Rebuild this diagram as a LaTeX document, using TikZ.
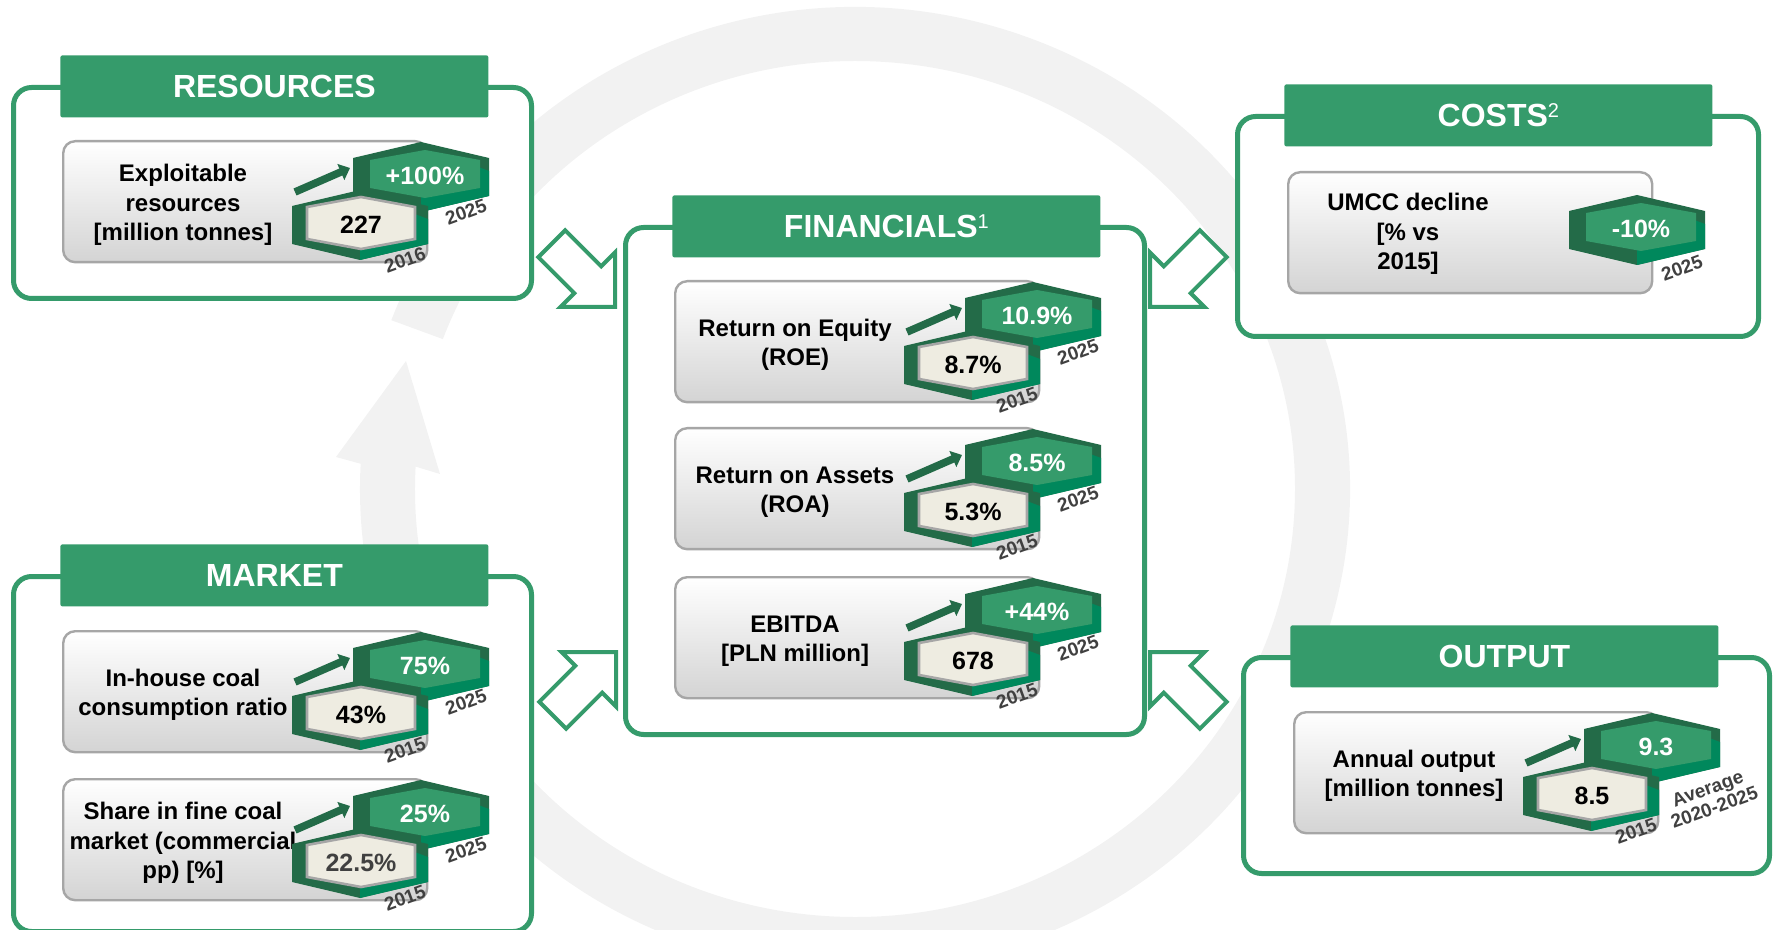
\documentclass[tikz,border=0pt]{standalone}
\usepackage{fontspec}
\setmainfont{Liberation Sans}
\usetikzlibrary{arrows.meta}

\definecolor{jswgreen}{HTML}{359B6B}
\definecolor{hexdark}{HTML}{236B48}
\definecolor{hexbright}{HTML}{00885C}
\definecolor{hexbeige}{HTML}{EEECE1}
\definecolor{ringgray}{HTML}{F2F2F2}
\definecolor{yeargray}{HTML}{404040}

\tikzset{
  panelbox/.style={draw=jswgreen, line width=2.5pt, fill=white, rounded corners=9pt,
    anchor=north west, inner sep=0pt},
  paneltitle/.style={fill=jswgreen, rounded corners=1pt, text=white, anchor=north west,
    font=\bfseries\fontsize{16}{19}\selectfont, minimum width=214pt, minimum height=31pt, inner sep=0pt},
  kpibox/.style={draw=black!35, line width=1.2pt, rounded corners=6pt, anchor=north west,
    top color=white, middle color=white, bottom color=black!17,
    minimum width=182pt, minimum height=60.5pt, inner sep=0pt},
  kpitext/.style={font=\bfseries\fontsize{12}{14.7}\selectfont, align=center},
  hexvalue/.style={font=\bfseries\fontsize{12.5}{14}\selectfont, inner sep=0pt},
  yearlabel/.style={font=\bfseries\fontsize{9.5}{10}\selectfont, text=yeargray, rotate=20,
    align=center, inner sep=0pt},
  hexrim/.style={draw=black!35, line width=1.3pt, fill=hexbeige},
  trendarrow/.style={draw=hexdark, line width=3.8pt, -{Triangle[length=5pt,width=8.5pt]}},
  flowarrow/.style={draw=jswgreen, line width=2pt, fill=white},
}

\newcommand{\hexpath}[3]{(0,-#2) -- (#1,-#3) -- (#1,#3) -- (0,#2) -- (-#1,#3) -- (-#1,-#3) -- cycle}
\newcommand{\fnmark}[1]{\raisebox{4.6pt}{\fontsize{10}{10}\mdseries #1}}

% dark hexagon with its lit lower-right face
\newcommand{\hexbase}{%
  \fill[hexdark] \hexpath{68}{35}{19};
  \fill[hexbright] (68,-6) -- (68,19) -- (0,35) -- (0,0) -- (52,-12) -- cycle;
}

% name, centre, value, year
\newcommand{\oldhex}[4]{%
  \begin{scope}[shift={#2}]
    \hexbase
    \draw[hexrim, shift={(1,-2)}] \hexpath{54}{26}{16};
    \node[hexvalue] (#1) at (1,0) {#3};
    \node[yearlabel] (#1-year) at (45,35) {#4};
  \end{scope}}

% [year position], name, centre, value, year
\newcommand{\newhex}[5][(45,35)]{%
  \begin{scope}[shift={#3}]
    \hexbase
    \fill[jswgreen, shift={(4,-3)}] \hexpath{55}{24}{14};
    \node[hexvalue, text=white] (#2) at (4,-1) {#4};
    \node[yearlabel] (#2-year) at #1 {#5};
  \end{scope}}

% [year position], name, top left, label, start value, target value, start year, target year
\newcommand{\kpi}[8][(45,35)]{%
  \begin{scope}[shift={#3}]
    \node[kpibox] (#2) at (0,0) {};
    \node[kpitext] (#2-label) at (121,65) {#4};
    \draw[trendarrow] (233,52) -- (288,28);
    \newhex[#1]{#2-target}{(359,37)}{#6}{#8}
    \oldhex{#2-start}{(298,85)}{#5}{#7}
  \end{scope}}

% name, top left, width, height, title
\newcommand{\panel}[5]{%
  \begin{scope}[shift={#2}]
    \node[panelbox, minimum width=#3*0.5pt, minimum height=#4*0.5pt] (#1) at (0,0) {};
    \node[paneltitle] (#1-title) at (49,-30) {#5};
  \end{scope}}

% name, tip, direction
\newcommand{\flow}[3]{%
  \draw[flowarrow, shift={#2}, rotate=#3] (0,0) -- (-38.5,38.5) -- (-38.5,19) -- (-89.5,19)
    -- (-89.5,-19) -- (-38.5,-19) -- (-38.5,-38.5) -- cycle;
  \coordinate (#1) at #2;
}

\begin{document}
\begin{tikzpicture}[x=0.5pt, y=-0.5pt]
  \useasboundingbox (0,0) rectangle (1773,930);

  % the cycle behind everything
  \fill[ringgray] (391.35,320.2) arc[start angle=-159.5, end angle=183, x radius=495, y radius=482]
    -- (336,457) -- (406,361) -- (440,474) -- (415.6,466.6)
    arc[start angle=183, end angle=-159.5, x radius=440, y radius=428] -- cycle;

  \flow{res-in}{(615,307)}{-45}
  \flow{cost-in}{(1150,307)}{-135}
  \flow{mkt-in}{(616,652)}{45}
  \flow{out-in}{(1150,652)}{135}

  \panel{resources}{(11,85)}{518}{211}{RESOURCES}
  \panel{market}{(11,574)}{518}{355}{MARKET}
  \panel{financials}{(623,225)}{519}{507}{FINANCIALS\fnmark{1}}
  \panel{costs}{(1235,114)}{521}{220}{COSTS\fnmark{2}}
  \panel{output}{(1241,655)}{526}{216}{OUTPUT}

  \kpi{reserves}{(62,140)}{Exploitable\\resources\\{}[million tonnes]}{227}{+100\%}{2016}{2025}
  \kpi{inhouse}{(62,630)}{In-house coal\\consumption ratio}{43\%}{75\%}{2015}{2025}
  \kpi{fineshare}{(62,778)}{Share in fine coal\\market (commercial\\pp) [\%]}{\color{yeargray}22.5\%}{25\%}{2015}{2025}

  \kpi{roe}{(674,280)}{Return on Equity\\(ROE)}{8.7\%}{10.9\%}{2015}{2025}
  \kpi{roa}{(674,427)}{Return on Assets\\(ROA)}{5.3\%}{8.5\%}{2015}{2025}
  \kpi{ebitda}{(674,576)}{EBITDA\\{}[PLN million]}{678}{+44\%}{2015}{2025}

  \begin{scope}[shift={(1287,171)}]
    \node[kpibox] (umcc) at (0,0) {};
    \node[kpitext] (umcc-label) at (121,63) {UMCC decline\\{}[\% vs\\2015]};
    \newhex[(45,38)]{umcc-target}{(350,59)}{-10\%}{2025}
  \end{scope}

  \kpi[(59,50)]{annual}{(1293,711)}{Annual output\\{}[million tonnes]}{8.5}{9.3}{2015}{Average\\2020-2025}
\end{tikzpicture}
\end{document}
